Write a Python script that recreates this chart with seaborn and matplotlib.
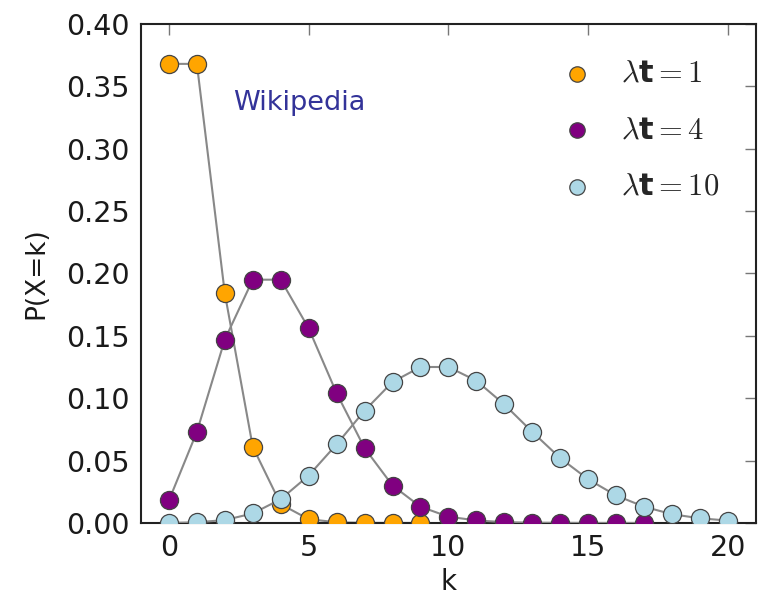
import matplotlib
matplotlib.use("Agg")
import matplotlib.pyplot as plt
import seaborn as sns

# values, k = 0, 1, 2, ...
p_lam1 = [0.368, 0.368, 0.184, 0.061, 0.015, 0.003, 0.0005, 0.0001, 0.0, 0.0]
p_lam4 = [0.018, 0.073, 0.147, 0.195, 0.195, 0.156, 0.104, 0.060, 0.030, 0.013,
          0.005, 0.002, 0.0006, 0.0002, 0.0001, 0.0, 0.0, 0.0]
p_lam10 = [0.0, 0.0005, 0.0023, 0.0076, 0.019, 0.038, 0.063, 0.090, 0.113, 0.125,
           0.125, 0.114, 0.095, 0.073, 0.052, 0.035, 0.022, 0.013, 0.007, 0.0037, 0.0019]
labels = [r'$\lambda$t$=1$', r'$\lambda$t$=4$', r'$\lambda$t$=10$']
colors = ['orange', 'purple', 'lightblue']
x_ticks = [0, 5, 10, 15, 20]
y_ticks = [0.00, 0.05, 0.10, 0.15, 0.20, 0.25, 0.30, 0.35, 0.40]

sns.set_style('white')
plt.rcParams['font.family'] = ['DejaVu Sans']
plt.rcParams['mathtext.fontset'] = 'cm'

fig = plt.figure(figsize=(7.6, 5.99), dpi=100)
ax = fig.add_axes([0.1855, 0.127, 0.809, 0.833])

for i, (vals, lab, col) in enumerate(zip([p_lam1, p_lam4, p_lam10], labels, colors)):
    ks = list(range(len(vals)))
    sns.lineplot(x=ks, y=vals, ax=ax, color='#888888', linewidth=1.5, zorder=2 + 2 * i)
    sns.scatterplot(x=ks, y=vals, ax=ax, color=col, s=170, edgecolor='#444444',
                    linewidth=0.9, label=lab, zorder=3 + 2 * i)

ax.set_xlim(-1, 21)
ax.set_ylim(0, 0.4)
ax.set_xticks(x_ticks)
ax.set_yticks(y_ticks)
ax.set_yticklabels([f'{v:.2f}' for v in y_ticks])
ax.tick_params(direction='in', length=8, width=1, color='#777777', labelsize=20.5,
               labelcolor='#1a1a1a', top=True, right=True, pad=8)
for s in ax.spines.values():
    s.set_color('#222222')
    s.set_linewidth(1.5)

ax.set_xlabel('k', fontsize=20, labelpad=4, color='#1a1a1a')
ax.set_ylabel('P(X=k)', fontsize=19, labelpad=12, color='#1a1a1a')

ax.text(2.28, 0.337, 'Wikipedia', color='#333399', fontsize=19.5, ha='left', va='center')

ax.legend(loc='upper right', frameon=False, prop={'size': 22, 'weight': 'bold'},
          labelspacing=0.9, handletextpad=0.45, borderaxespad=0.5, markerscale=0.85,
          bbox_to_anchor=(0.985, 0.985))

fig.savefig('out.png', dpi=100)
